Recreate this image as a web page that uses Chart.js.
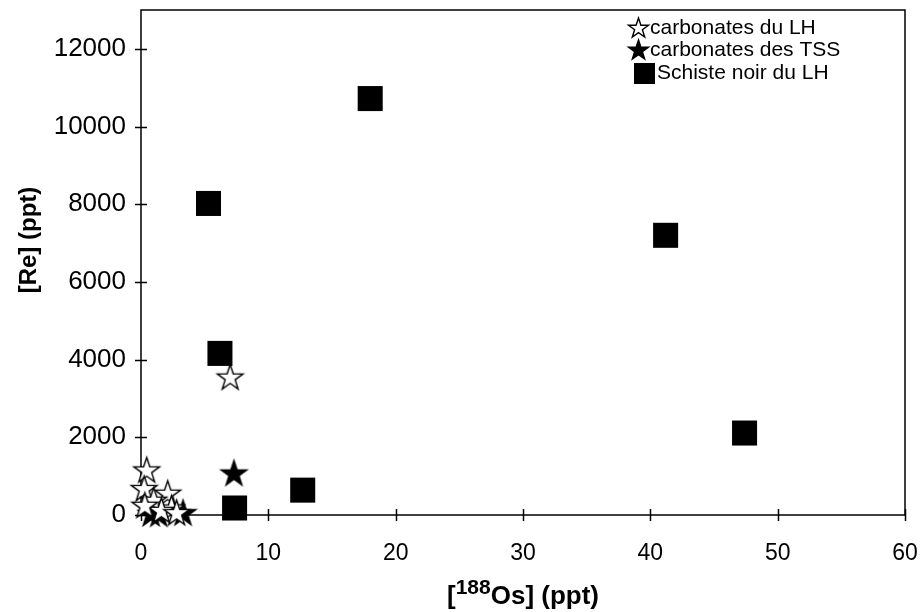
<!DOCTYPE html>
<html>
<head>
<meta charset="utf-8">
<script src="https://cdn.jsdelivr.net/npm/chart.js@4.4.1/dist/chart.umd.min.js"></script>
<style>
	body { margin: 0; background: #fff; }
	canvas { display: block; }
</style>
</head>
<body>
<canvas id="cntx_re_os" width="923" height="612"></canvas>
<script>
// carbonates du LH (open stars)
const lhX = [7.0, 0.45, 0.25, 2.1, 1.0, 2.4, 1.6, 2.8, 0.3];
const lhY = [3550, 1160, 680, 560, 380, 180, 120, 60, 250];
// carbonates des TSS (black stars)
const tssX = [7.3, 0.8, 3.3, 1.4];
const tssY = [1080, 40, 60, 30];
// Schiste noir du LH (black squares)
const shX = [5.3, 18.0, 41.2, 47.4, 6.2, 12.7, 7.35];
const shY = [8020, 10720, 7200, 2110, 4160, 640, 180];

const xTicks = [0, 10, 20, 30, 40, 50, 60];
const yTicks = [0, 2000, 4000, 6000, 8000, 10000, 12000];
const labels = ["carbonates du LH", "carbonates des TSS", "Schiste noir du LH"];

const FONT = "'Liberation Sans', Arial, sans-serif";

makeStar = (fill, R) => {
	const s = Math.ceil(R * 2 + 4);
	const c = document.createElement("canvas");
	c.width = s;
	c.height = s;
	const g = c.getContext("2d");
	const r = R * 0.39;
	g.beginPath();
	for (let i = 0; i < 10; i++) {
		const a = -Math.PI / 2 + (i * Math.PI) / 5;
		const rad = i % 2 ? r : R;
		g.lineTo(s / 2 + rad * Math.cos(a), s / 2 + 1 + rad * Math.sin(a));
	}
	g.closePath();
	g.fillStyle = fill;
	g.fill();
	g.lineWidth = 1.4;
	g.strokeStyle = "#000";
	g.stroke();
	return c;
};

const openStar = makeStar("#fff", 13.5);
const blackStar = makeStar("#000", 13.5);

toPoints = (xs, ys) => xs.map((x, i) => ({ x: x, y: ys[i] }));

// frame + crossing tick marks, under the markers
const framePlugin = {
	id: "frame",
	beforeDatasetsDraw: (chart) => {
		const ctx = chart.ctx;
		const a = chart.chartArea;
		const xs = chart.scales.x;
		const ys = chart.scales.y;
		ctx.save();
		ctx.strokeStyle = "#000";
		ctx.lineWidth = 1.5;
		ctx.strokeRect(a.left, a.top, a.right - a.left, a.bottom - a.top);
		ctx.beginPath();
		xTicks.forEach((v) => {
			const px = Math.round(xs.getPixelForValue(v)) + 0.5;
			ctx.moveTo(px, a.bottom - 6);
			ctx.lineTo(px, a.bottom + 6);
		});
		yTicks.forEach((v) => {
			const py = Math.round(ys.getPixelForValue(v)) + 0.5;
			ctx.moveTo(a.left - 6, py);
			ctx.lineTo(a.left + 6, py);
		});
		ctx.stroke();
		ctx.restore();
	},
	afterDraw: (chart) => {
		const ctx = chart.ctx;
		ctx.save();
		ctx.fillStyle = "#000";

		// y title
		ctx.save();
		ctx.translate(29, 240);
		ctx.rotate(-Math.PI / 2);
		ctx.font = "bold 24px " + FONT;
		ctx.textAlign = "center";
		ctx.textBaseline = "middle";
		ctx.fillText("[Re] (ppt)", 0, 0);
		ctx.restore();

		// x title with superscript
		ctx.textBaseline = "alphabetic";
		ctx.textAlign = "left";
		const big = "bold 26px " + FONT;
		const small = "bold 21px " + FONT;
		const parts = [
			["[", big, 0],
			["188", small, -10],
			["Os] (ppt)", big, 0],
		];
		let w = 0;
		parts.forEach((p) => {
			ctx.font = p[1];
			w += ctx.measureText(p[0]).width;
		});
		let x = (chart.chartArea.left + chart.chartArea.right) / 2 - w / 2;
		parts.forEach((p) => {
			ctx.font = p[1];
			ctx.fillText(p[0], x, 604 + p[2]);
			x += ctx.measureText(p[0]).width;
		});

		// legend inside plot, top right
		const rows = [28, 50, 73];
		ctx.font = "21px " + FONT;
		ctx.textBaseline = "middle";
		ctx.drawImage(makeStar("#fff", 10.5), 626, rows[0] - 13);
		ctx.drawImage(makeStar("#000", 10.5), 626, rows[1] - 13);
		ctx.fillRect(634, rows[2] - 10, 21, 21);
		labels.forEach((t, i) => {
			ctx.fillText(t, i == 2 ? 657 : 650, rows[i]);
		});
		ctx.restore();
	},
};

drawChart = (canvas) => {
	const myChart = new Chart(canvas, {
		type: "scatter",
		data: {
			datasets: [
				{
					label: labels[0],
					data: toPoints(lhX, lhY),
					pointStyle: openStar,
					clip: false,
				},
				{
					label: labels[1],
					data: toPoints(tssX, tssY),
					pointStyle: blackStar,
					clip: false,
				},
				{
					label: labels[2],
					data: toPoints(shX, shY),
					pointStyle: "rect",
					pointRadius: 17.7,
					pointHoverRadius: 17.7,
					backgroundColor: "#000",
					borderColor: "#000",
					borderWidth: 0,
					clip: false,
				},
			],
		},
		options: {
			responsive: false,
			animation: false,
			events: [],
			layout: {
				autoPadding: false,
				padding: { top: 10, right: 18, left: 0, bottom: 0 },
			},
			scales: {
				x: {
					type: "linear",
					min: 0,
					max: 60,
					afterBuildTicks: (s) => {
						s.ticks = xTicks.map((v) => ({ value: v }));
					},
					afterFit: (s) => {
						s.height = 97;
						s.paddingLeft = 0;
						s.paddingRight = 0;
						s.paddingTop = 0;
						s.paddingBottom = 0;
					},
					grid: { display: false, drawTicks: false },
					border: { display: false },
					ticks: {
						padding: 25,
						color: "#000",
						font: { family: FONT, size: 23 },
						maxRotation: 0,
						callback: (v) => String(v),
					},
				},
				y: {
					type: "linear",
					min: 0,
					max: 13000,
					afterBuildTicks: (s) => {
						s.ticks = yTicks.map((v) => ({ value: v }));
					},
					afterFit: (s) => {
						s.width = 141;
						s.paddingLeft = 0;
						s.paddingRight = 0;
						s.paddingTop = 0;
						s.paddingBottom = 0;
					},
					grid: { display: false, drawTicks: false },
					border: { display: false },
					ticks: {
						padding: 15,
						color: "#000",
						font: { family: FONT, size: 26 },
						callback: (v) => String(v),
					},
				},
			},
			plugins: {
				legend: { display: false },
				tooltip: { enabled: false },
			},
		},
		plugins: [framePlugin],
	});
};
drawChart(document.querySelector("#cntx_re_os"));
</script>
</body>
</html>
